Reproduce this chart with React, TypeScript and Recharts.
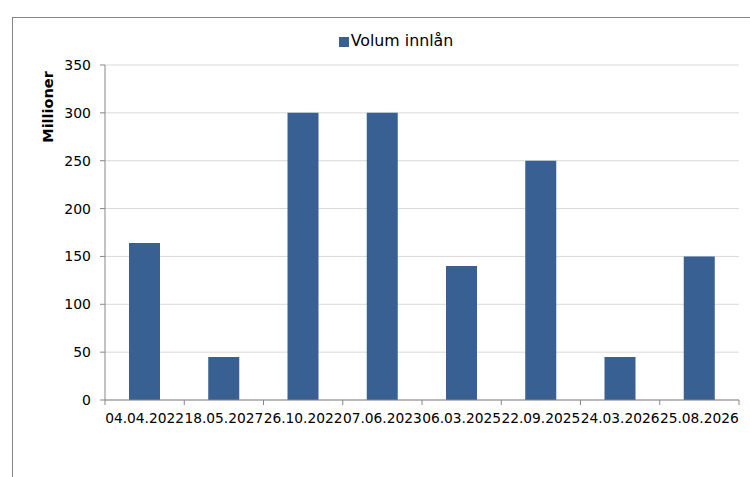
import React from 'react';
import { BarChart, Bar, XAxis, YAxis, CartesianGrid, Legend, Label } from 'recharts';

const dates = [
  '04.04.2022',
  '18.05.2027',
  '26.10.2022',
  '07.06.2023',
  '06.03.2025',
  '22.09.2025',
  '24.03.2026',
  '25.08.2026',
];
const volum = [164, 45, 300, 300, 140, 250, 45, 150];
const yTicks = [0, 50, 100, 150, 200, 250, 300, 350];

const data = dates.map((d, i) => ({ date: d, volum: volum[i] }));

const FONT = '"DejaVu Sans", Verdana, sans-serif';
const AXIS = '#868686';

// category labels plus Excel-style tick marks between categories
const DateTick = (props: any) => {
  const { x, y, payload, index, width } = props;
  const band = width / dates.length;
  const top = y - 13;
  return (
    <g>
      <line x1={x - band / 2} x2={x - band / 2} y1={top} y2={top + 5} stroke={AXIS} />
      {index === dates.length - 1 && (
        <line x1={x + band / 2} x2={x + band / 2} y1={top} y2={top + 5} stroke={AXIS} />
      )}
      <text x={x} y={y} dy="0.71em" textAnchor="middle" fontSize={13.8} fill="#000" fontFamily={FONT}>
        {payload.value}
      </text>
    </g>
  );
};

const YTitle = (props: any) => {
  const { viewBox } = props;
  const cx = viewBox.x + 48;
  const cy = viewBox.y + 42;
  return (
    <text
      x={cx}
      y={cy}
      transform={`rotate(-90 ${cx} ${cy})`}
      textAnchor="middle"
      dominantBaseline="central"
      fontSize={14.5}
      fontWeight="bold"
      fontFamily={FONT}
      fill="#000"
    >
      Millioner
    </text>
  );
};

export default function App() {
  return (
    <div style={{ position: 'fixed', left: 0, top: 0, width: 750, height: 477, overflow: 'hidden', background: '#fff' }}>
      <div
        style={{
          position: 'absolute',
          left: 12,
          top: 17,
          width: 780,
          height: 500,
          border: `1px solid ${AXIS}`,
        }}
      />
      <div style={{ position: 'absolute', left: 0, top: 0 }}>
        <BarChart
          width={750}
          height={477}
          data={data}
          margin={{ top: 65, right: 11, left: 0, bottom: 47 }}
          style={{ fontFamily: FONT }}
        >
          <CartesianGrid vertical={false} stroke="#d9d9d9" />
          <XAxis
            dataKey="date"
            interval={0}
            height={30}
            tickLine={false}
            tickSize={5}
            tickMargin={8}
            stroke={AXIS}
            tick={<DateTick />}
          />
          <YAxis
            width={105}
            domain={[0, 350]}
            ticks={yTicks}
            interval={0}
            tickSize={5}
            tickMargin={9}
            stroke={AXIS}
            tick={{ fill: '#000', fontSize: 14, fontFamily: FONT }}
          >
            <Label content={<YTitle />} />
          </YAxis>
          <Legend
            verticalAlign="middle"
            align="center"
            layout="horizontal"
            iconType="square"
            iconSize={10}
            wrapperStyle={{ top: 31, left: 5, width: 792, fontSize: 15.8, fontFamily: FONT }}
            formatter={(v: string) => <span style={{ color: '#000', marginLeft: -2 }}>{v}</span>}
          />
          <Bar dataKey="volum" name="Volum innlån" fill="#386093" barSize={31} isAnimationActive={false} />
        </BarChart>
      </div>
    </div>
  );
}
